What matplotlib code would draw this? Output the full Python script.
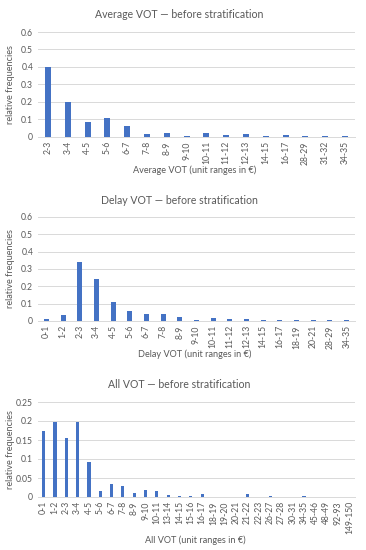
"""Relative frequency histograms of VOT before stratification."""
import matplotlib
matplotlib.use("Agg")
import matplotlib.pyplot as plt

plt.rcParams["font.family"] = ["Lato", "DejaVu Sans"]

BAR_COLOR = "#4472C4"
TEXT_COLOR = "#595959"
GRID_COLOR = "#D9D9D9"

# Average VOT
avg_labels = ["2-3", "3-4", "4-5", "5-6", "6-7", "7-8", "8-9", "9-10", "10-11",
              "11-12", "12-13", "14-15", "16-17", "28-29", "31-32", "34-35"]
avg_values = [0.40, 0.20, 0.085, 0.11, 0.06, 0.018, 0.022, 0.003, 0.022,
              0.011, 0.016, 0.003, 0.010, 0.003, 0.003, 0.003]

# Delay VOT
delay_labels = ["0-1", "1-2", "2-3", "3-4", "4-5", "5-6", "6-7", "7-8", "8-9",
                "9-10", "10-11", "11-12", "12-13", "14-15", "16-17", "18-19",
                "20-21", "28-29", "34-35"]
delay_values = [0.012, 0.035, 0.34, 0.245, 0.11, 0.06, 0.042, 0.042, 0.024,
                0.003, 0.018, 0.012, 0.012, 0.003, 0.003, 0.003,
                0.003, 0.003, 0.003]

# All VOT
all_labels = ["0-1", "1-2", "2-3", "3-4", "4-5", "5-6", "6-7", "7-8", "8-9",
              "9-10", "10-11", "13-14", "14-15", "15-16", "16-17", "18-19",
              "19-20", "20-21", "21-22", "22-23", "26-27", "27-28", "30-31",
              "34-35", "45-46", "48-49", "92-93", "149-150"]
all_values = [0.175, 0.197, 0.155, 0.197, 0.092, 0.016, 0.035, 0.028, 0.010,
              0.018, 0.016, 0.006, 0.003, 0.003, 0.009, 0.0005,
              0.0005, 0.0005, 0.007, 0.0005, 0.003, 0.0005, 0.0005,
              0.002, 0.0005, 0.0005, 0.0005, 0.0005]

W, H = 366, 550
LEFT, RIGHT = 38, 355


def panel(fig, top, bottom, labels, values, ymax, ystep, title, xlabel, title_y, xlabel_y, width):
    ax = fig.add_axes([LEFT / W, 1 - bottom / H, (RIGHT - LEFT) / W, (bottom - top) / H])
    x = range(len(labels))
    ax.bar(x, values, width=width, color=BAR_COLOR, zorder=3)
    ax.set_xlim(-0.5, len(labels) - 0.5)
    ax.set_ylim(0, ymax)
    n = int(round(ymax / ystep))
    ticks = [round(i * ystep, 3) for i in range(n + 1)]
    ax.set_yticks(ticks)
    ax.set_yticklabels([f"{t:g}" for t in ticks])
    ax.set_xticks(list(x))
    ax.set_xticklabels(labels, rotation=90)
    ax.tick_params(length=0, labelsize=6.2, colors=TEXT_COLOR, pad=3)
    ax.tick_params(axis="y", pad=3.5)
    ax.grid(axis="y", color=GRID_COLOR, linewidth=0.7, zorder=0)
    for s in ["left", "right", "top"]:
        ax.spines[s].set_visible(False)
    ax.spines["bottom"].set_color(GRID_COLOR)
    ax.spines["bottom"].set_linewidth(0.7)
    ax.set_ylabel("relative frequencies", fontsize=6.6, color=TEXT_COLOR)
    ax.yaxis.set_label_coords((15 - LEFT) / (RIGHT - LEFT), 0.5)
    fig.text(179 / W, 1 - title_y / H, title, ha="center", va="center", fontsize=7.6, color=TEXT_COLOR)
    fig.text(195 / W, 1 - xlabel_y / H, xlabel, ha="center", va="center", fontsize=6.6, color=TEXT_COLOR)
    return ax


fig = plt.figure(figsize=(W / 100, H / 100), dpi=100)
panel(fig, 32, 137, avg_labels, avg_values, 0.6, 0.1,
      "Average VOT \u2014 before stratification", "Average VOT (unit ranges in \u20ac)", 14, 170, 0.3)
panel(fig, 217, 321, delay_labels, delay_values, 0.6, 0.1,
      "Delay VOT \u2014 before stratification", "Delay VOT (unit ranges in \u20ac)", 200, 354, 0.3)
panel(fig, 402, 497, all_labels, all_values, 0.25, 0.05,
      "All VOT \u2014 before stratification", "All VOT (unit ranges in \u20ac)", 384, 540, 0.28)
fig.savefig("out.png", dpi=100, facecolor="white")
